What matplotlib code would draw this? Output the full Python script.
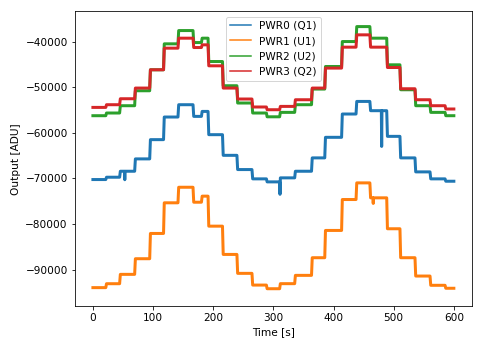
import numpy as np
import matplotlib
matplotlib.use("Agg")
import matplotlib.pyplot as plt

plt.rcParams["font.size"] = 10.5

# segment boundaries [s]
breaks = [0, 22, 45, 70, 95, 118, 142, 167, 181, 192, 216, 240, 265, 289,
          311, 336, 364, 386, 414, 438, 461, 489, 511, 536, 561, 586, 600]

pwr0 = [-70260, -69750, -68440, -65730, -61510, -56550, -53850, -56410, -55320,
        -60420, -64950, -68070, -70110, -70770, -69890, -68440, -65510, -61000,
        -55890, -53130, -55160, -60790, -65510, -68580, -70110, -70630]
pwr1 = [-93960, -93100, -91050, -87620, -82080, -75360, -71950, -75230, -73900,
        -80480, -86680, -90830, -93400, -94200, -93090, -91270, -87400, -81420,
        -74640, -70990, -74270, -81050, -87400, -91420, -93450, -94100]
pwr2 = [-56260, -55670, -54070, -50790, -46190, -40500, -37590, -40220, -39260,
        -44380, -49690, -53480, -55670, -56500, -55530, -53850, -50420, -45470,
        -40000, -36720, -39260, -45100, -50570, -54070, -55530, -56260]
pwr3 = [-54440, -53850, -52540, -50200, -46190, -41450, -39260, -41310, -40720,
        -45320, -50200, -52600, -54350, -54950, -54220, -52760, -50200, -45820,
        -41230, -38530, -41230, -45690, -50350, -52760, -54070, -54790]

# short glitches (time, value)
spikes0 = [(311, -73500), (480, -63000), (53, -70300)]
spikes1 = [(466, -75500)]
spikes2 = []
spikes3 = []

labels = ["PWR0 (Q1)", "PWR1 (U1)", "PWR2 (U2)", "PWR3 (Q2)"]
colors = ["#1f77b4", "#ff7f0e", "#2ca02c", "#d62728"]


def build(levels, spikes):
    b = np.asarray(breaks, float)
    x = np.empty(2 * len(levels))
    y = np.empty(2 * len(levels))
    x[0::2] = b[:-1] + 0.6
    x[1::2] = b[1:] - 0.6
    x[0] = b[0]
    x[-1] = b[-1]
    y[0::2] = levels
    y[1::2] = levels
    pts = list(zip(x, y))
    for t, v in spikes:
        i = np.searchsorted(b, t) - 1
        lv = levels[i]
        pts += [(t - 0.5, lv), (t, v), (t + 0.5, lv)]
    pts.sort()
    xs, ys = zip(*pts)
    return np.array(xs), np.array(ys)


fig = plt.figure(figsize=(483 / 72, 347 / 72), dpi=72)
ax = fig.add_axes([0.155, 0.118, 0.822, 0.849])

series = [(pwr0, spikes0), (pwr1, spikes1), (pwr2, spikes2), (pwr3, spikes3)]
for (lv, sp), lab, c in zip(series, labels, colors):
    x, y = build(lv, sp)
    ax.plot(x, y, color=c, lw=3.0, label=lab)

ax.set_xlim(-30, 630)
ax.set_ylim(-98000, -33400)
ax.set_xticks([0, 100, 200, 300, 400, 500, 600])
ax.set_yticks([-90000, -80000, -70000, -60000, -50000, -40000])
ax.set_xlabel("Time [s]")
ax.set_ylabel("Output [ADU]")
leg = ax.legend(loc="upper center")
for h in leg.get_lines():
    h.set_linewidth(1.5)

fig.savefig("out.png", dpi=72)
